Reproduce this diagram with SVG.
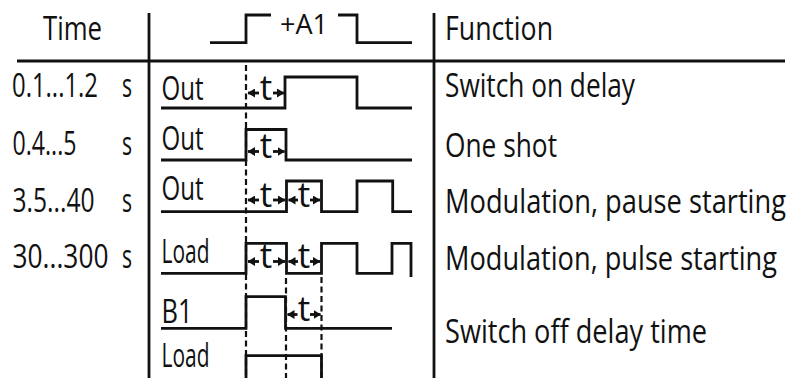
<svg xmlns="http://www.w3.org/2000/svg" width="802" height="378" viewBox="0 0 802 378">
<style>
.txt{font-family:"Open Sans","Liberation Sans",sans-serif;font-size:32px;fill:#111}
.tt{font-family:"Open Sans","Liberation Sans",sans-serif;font-size:35px;fill:#111;text-anchor:middle}
.ln{fill:none;stroke:#111;stroke-width:2.8;stroke-linejoin:miter;stroke-linecap:butt}
.dash{fill:none;stroke:#111;stroke-width:2.2;stroke-dasharray:6 3.5}
.ar{fill:none;stroke:#111;stroke-width:2.8}
</style>
<defs>
<marker id="ah" markerUnits="userSpaceOnUse" markerWidth="8" markerHeight="9" refX="7" refY="4.5" orient="auto">
<path d="M0,0 L7.5,4.5 L0,9 z" fill="#111"/>
</marker>
</defs>
<rect width="802" height="378" fill="#fff"/>

<g id="table">
<path class="ln" d="M17,61 H785"/>
<path class="ln" d="M149,13 V378"/>
<path class="ln" d="M434,13 V378"/>
</g>

<g id="headers">
<text class="txt" x="43" y="40" textLength="59" lengthAdjust="spacingAndGlyphs">Time</text>
<text class="txt" x="280" y="34" style="font-size:28px" textLength="48" lengthAdjust="spacingAndGlyphs">+A1</text>
<text class="txt" x="445" y="40" textLength="108" lengthAdjust="spacingAndGlyphs">Function</text>
</g>

<g id="times">
<text class="txt" x="12" y="97" textLength="86" lengthAdjust="spacingAndGlyphs">0.1...1.2</text>
<text class="txt" x="122" y="97" textLength="10" lengthAdjust="spacingAndGlyphs">s</text>
<text class="txt" x="12.5" y="155" textLength="64" lengthAdjust="spacingAndGlyphs">0.4...5</text>
<text class="txt" x="122" y="155" textLength="10" lengthAdjust="spacingAndGlyphs">s</text>
<text class="txt" x="12.5" y="212" textLength="82" lengthAdjust="spacingAndGlyphs">3.5...40</text>
<text class="txt" x="122" y="212" textLength="10" lengthAdjust="spacingAndGlyphs">s</text>
<text class="txt" x="12.5" y="268" textLength="96" lengthAdjust="spacingAndGlyphs">30...300</text>
<text class="txt" x="122" y="268" textLength="10" lengthAdjust="spacingAndGlyphs">s</text>
</g>

<g id="signal-labels">
<text class="txt" x="161.5" y="100" textLength="42" lengthAdjust="spacingAndGlyphs">Out</text>
<text class="txt" x="161.5" y="150" textLength="42" lengthAdjust="spacingAndGlyphs">Out</text>
<text class="txt" x="161.5" y="200" textLength="42" lengthAdjust="spacingAndGlyphs">Out</text>
<text class="txt" x="161.5" y="263" textLength="48" lengthAdjust="spacingAndGlyphs">Load</text>
<text class="txt" x="161.5" y="323" textLength="31" lengthAdjust="spacingAndGlyphs">B1</text>
<text class="txt" x="161.5" y="366.5" textLength="48" lengthAdjust="spacingAndGlyphs">Load</text>
</g>

<g id="functions">
<text class="txt" x="445" y="97" textLength="190" lengthAdjust="spacingAndGlyphs">Switch on delay</text>
<text class="txt" x="445" y="157" textLength="112" lengthAdjust="spacingAndGlyphs">One shot</text>
<text class="txt" x="445" y="213" textLength="341" lengthAdjust="spacingAndGlyphs">Modulation, pause starting</text>
<text class="txt" x="445" y="270" textLength="332" lengthAdjust="spacingAndGlyphs">Modulation, pulse starting</text>
<text class="txt" x="445" y="343" textLength="262" lengthAdjust="spacingAndGlyphs">Switch off delay time</text>
</g>

<g id="signals">
<path class="ln" d="M210,42.7 H246 V15 H271"/>
<path class="ln" d="M338,15 H357 V42.7 H412"/>
<path class="ln" d="M161,108 H285 V77 H357 V108 H412"/>
<path class="ln" d="M161,160 H246 V129.5 H286 V160 H412"/>
<path class="ln" d="M161,211.7 H286.5 V181 H321.5 V211.7 H357 V181 H392.7 V211.7 H412"/>
<path class="ln" d="M161,273.3 H246 V243.3 H286.5 V273.3 H321.5 V243.3 H357 V273.3 H392 V243.3 H411 V277"/>
<path class="ln" d="M161,328.3 H246 V296.7 H285.5 V328.3 H392"/>
<path class="ln" d="M246,378 V355.7 H321.5 V378"/>
</g>

<g id="connectors">
<path class="dash" d="M246,65 V378"/>
<path class="dash" d="M286,278 V378"/>
<path class="dash" d="M321.5,277 V378"/>
<g id="t-row1">
<line class="ar" x1="259" y1="93" x2="248" y2="93" marker-end="url(#ah)"/>
<line class="ar" x1="273" y1="93" x2="284" y2="93" marker-end="url(#ah)"/>
<text class="tt" x="266" y="99.5">t</text>
</g>
<g id="t-row2">
<line class="ar" x1="259" y1="151.5" x2="248" y2="151.5" marker-end="url(#ah)"/>
<line class="ar" x1="273" y1="151.5" x2="284.5" y2="151.5" marker-end="url(#ah)"/>
<text class="tt" x="266" y="158">t</text>
</g>
<g id="t-row3">
<line class="ar" x1="259" y1="200" x2="248" y2="200" marker-end="url(#ah)"/>
<line class="ar" x1="273" y1="200" x2="285" y2="200" marker-end="url(#ah)"/>
<text class="tt" x="266" y="206.5">t</text>
<line class="ar" x1="298" y1="200" x2="288.5" y2="200" marker-end="url(#ah)"/>
<line class="ar" x1="310" y1="200" x2="320" y2="200" marker-end="url(#ah)"/>
<text class="tt" x="304" y="206.5">t</text>
</g>
<g id="t-row4">
<line class="ar" x1="259" y1="261.5" x2="248" y2="261.5" marker-end="url(#ah)"/>
<line class="ar" x1="273" y1="261.5" x2="285" y2="261.5" marker-end="url(#ah)"/>
<text class="tt" x="266" y="268">t</text>
<line class="ar" x1="298" y1="261.5" x2="288.5" y2="261.5" marker-end="url(#ah)"/>
<line class="ar" x1="310" y1="261.5" x2="320" y2="261.5" marker-end="url(#ah)"/>
<text class="tt" x="304" y="268">t</text>
</g>
<g id="t-row5">
<line class="ar" x1="297.5" y1="314.5" x2="287.5" y2="314.5" marker-end="url(#ah)"/>
<line class="ar" x1="310" y1="314.5" x2="320.5" y2="314.5" marker-end="url(#ah)"/>
<text class="tt" x="304" y="321">t</text>
</g>
</g>
</svg>
